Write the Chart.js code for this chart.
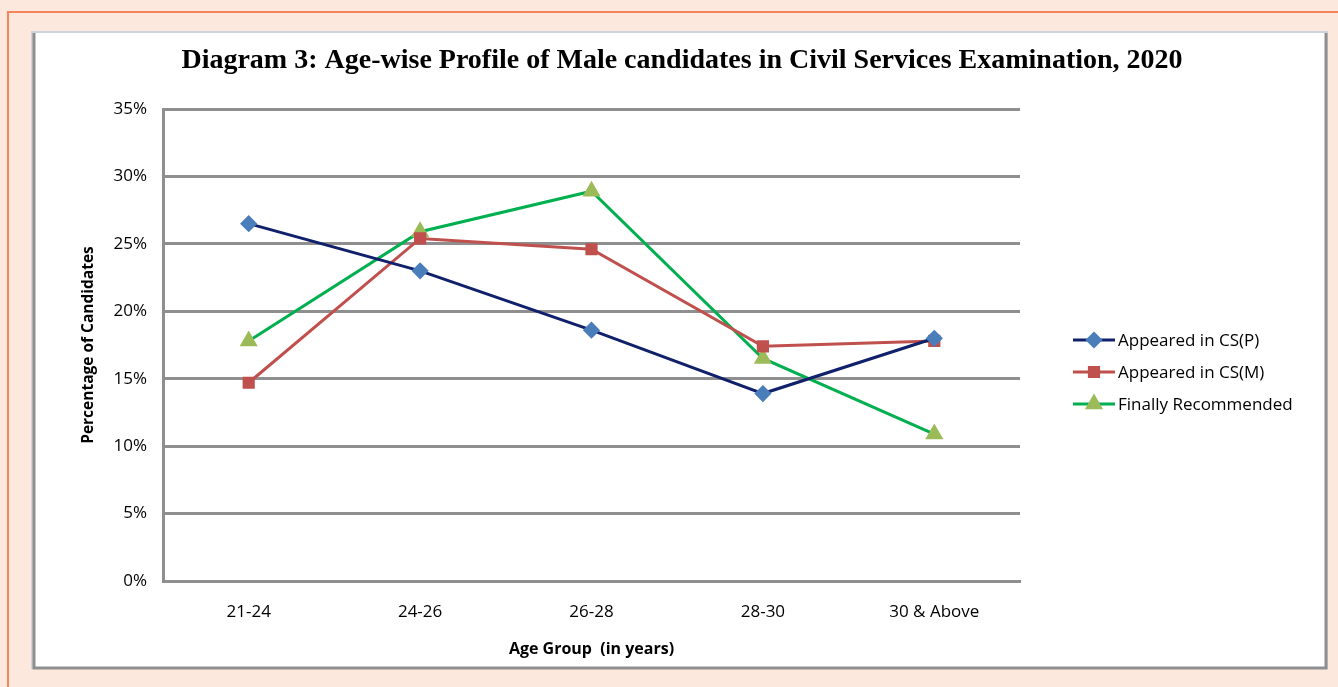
<!DOCTYPE html>
<html>
<head>
<meta charset="utf-8">
<script src="https://cdn.jsdelivr.net/npm/chart.js@4"></script>
<style>
  html, body { margin: 0; padding: 0; background: #fde8de; }
  #wrap { width: 1338px; height: 687px; position: relative; }
</style>
</head>
<body>
<div id="wrap"><canvas id="chartEdad" width="1338" height="687"></canvas></div>
<script>
// Datos
const grupos = ['21-24', '24-26', '26-28', '28-30', '30 & Above'];
const csPrelim = [26.5, 23.0, 18.6, 13.9, 18.0];
const csMains = [14.7, 25.4, 24.6, 17.4, 17.8];
const recomendados = [17.8, 25.9, 28.9, 16.5, 10.9];
const nombresSeries = ['Appeared in CS(P)', 'Appeared in CS(M)', 'Finally Recommended'];
const tituloGrafico = 'Diagram 3: Age-wise Profile of Male candidates in Civil Services Examination, 2020';
const tituloEjeX = 'Age Group  (in years)';
const tituloEjeY = 'Percentage of Candidates';

const fuente = "'Open Sans', 'Liberation Sans', sans-serif";

// Fondo, marcos, título y leyenda
const marcoPlugin = {
    id: 'marco',
    beforeDraw(chart) {
        const c = chart.ctx;
        c.save();
        c.fillStyle = '#fde8de';
        c.fillRect(0, 0, chart.width, chart.height);
        c.strokeStyle = '#f4845a';
        c.lineWidth = 2;
        c.beginPath();
        c.moveTo(8, 687);
        c.lineTo(8, 12);
        c.lineTo(1338, 12);
        c.stroke();
        c.fillStyle = '#ffffff';
        c.fillRect(32, 32, 1295, 636);
        c.strokeStyle = '#cdd3df';
        c.lineWidth = 2;
        c.strokeRect(32, 32, 1295, 636);
        c.strokeStyle = '#8f8f8f';
        c.lineWidth = 3;
        c.beginPath();
        c.moveTo(34, 33); c.lineTo(34, 668); c.lineTo(1326, 668); c.lineTo(1326, 33);
        c.stroke();
        c.fillStyle = '#000';
        c.font = "bold 28px 'Liberation Serif', 'Times New Roman', serif";
        c.textAlign = 'center';
        c.textBaseline = 'middle';
        c.fillText(tituloGrafico, 682, 61);
        c.restore();
    },
    afterDraw(chart) {
        const c = chart.ctx;
        c.save();
        chart.data.datasets.forEach((ds, i) => {
            const y = 340 + i * 32;
            c.strokeStyle = ds.borderColor;
            c.lineWidth = 3;
            c.beginPath();
            c.moveTo(1073, y);
            c.lineTo(1115, y);
            c.stroke();
            c.fillStyle = ds.pointBackgroundColor;
            c.strokeStyle = ds.pointBorderColor;
            Chart.helpers.drawPoint(c, { pointStyle: ds.pointStyle, radius: ds.pointRadius, borderWidth: 1 }, 1094, y);
            c.fillStyle = '#000';
            c.font = '17px ' + fuente;
            c.textAlign = 'left';
            c.textBaseline = 'middle';
            c.fillText(ds.label, 1118, y + 1);
        });
        c.restore();
    }
};

new Chart(document.getElementById('chartEdad').getContext('2d'), {
    type: 'line',
    data: {
        labels: grupos,
        datasets: [
            {
                label: nombresSeries[0],
                data: csPrelim,
                borderColor: '#10206b',
                backgroundColor: '#4a7ebb',
                pointBackgroundColor: '#4a7ebb',
                pointBorderColor: '#4a7ebb',
                pointStyle: 'rectRot',
                pointRadius: 6.5,
                borderWidth: 3
            },
            {
                label: nombresSeries[1],
                data: csMains,
                borderColor: '#c0504d',
                backgroundColor: '#c0504d',
                pointBackgroundColor: '#c0504d',
                pointBorderColor: '#c0504d',
                pointStyle: 'rect',
                pointRadius: 6.5,
                borderWidth: 3
            },
            {
                label: nombresSeries[2],
                data: recomendados,
                borderColor: '#00b050',
                backgroundColor: '#9bbb59',
                pointBackgroundColor: '#9bbb59',
                pointBorderColor: '#9bbb59',
                pointStyle: 'triangle',
                pointRadius: 7.5,
                borderWidth: 3
            }
        ]
    },
    options: {
        responsive: false,
        animation: false,
        layout: { padding: { left: 75, right: 318, top: 109, bottom: 24 } },
        plugins: {
            legend: { display: false },
            title: { display: false },
            tooltip: { enabled: false }
        },
        scales: {
            x: {
                offset: true,
                grid: { display: false, drawTicks: false },
                border: { color: '#8f8f8f', width: 3 },
                ticks: { color: '#000', font: { family: fuente, size: 17 }, padding: 21 },
                title: { display: true, text: tituloEjeX, color: '#000', font: { family: fuente, size: 16, weight: 'bold' }, padding: { top: 18 } },
                afterFit(scale) { scale.height = 82; }
            },
            y: {
                min: 0,
                max: 35,
                grid: { color: '#8f8f8f', lineWidth: 3, drawTicks: false },
                border: { color: '#8f8f8f', width: 3 },
                ticks: {
                    stepSize: 5,
                    color: '#000',
                    font: { family: fuente, size: 17 },
                    padding: 16,
                    callback: v => v + '%'
                },
                title: { display: true, text: tituloEjeY, color: '#000', font: { family: fuente, size: 15.5, weight: 'bold' } },
                afterFit(scale) { scale.width = 88; }
            }
        }
    },
    plugins: [marcoPlugin]
});
</script>
</body>
</html>
